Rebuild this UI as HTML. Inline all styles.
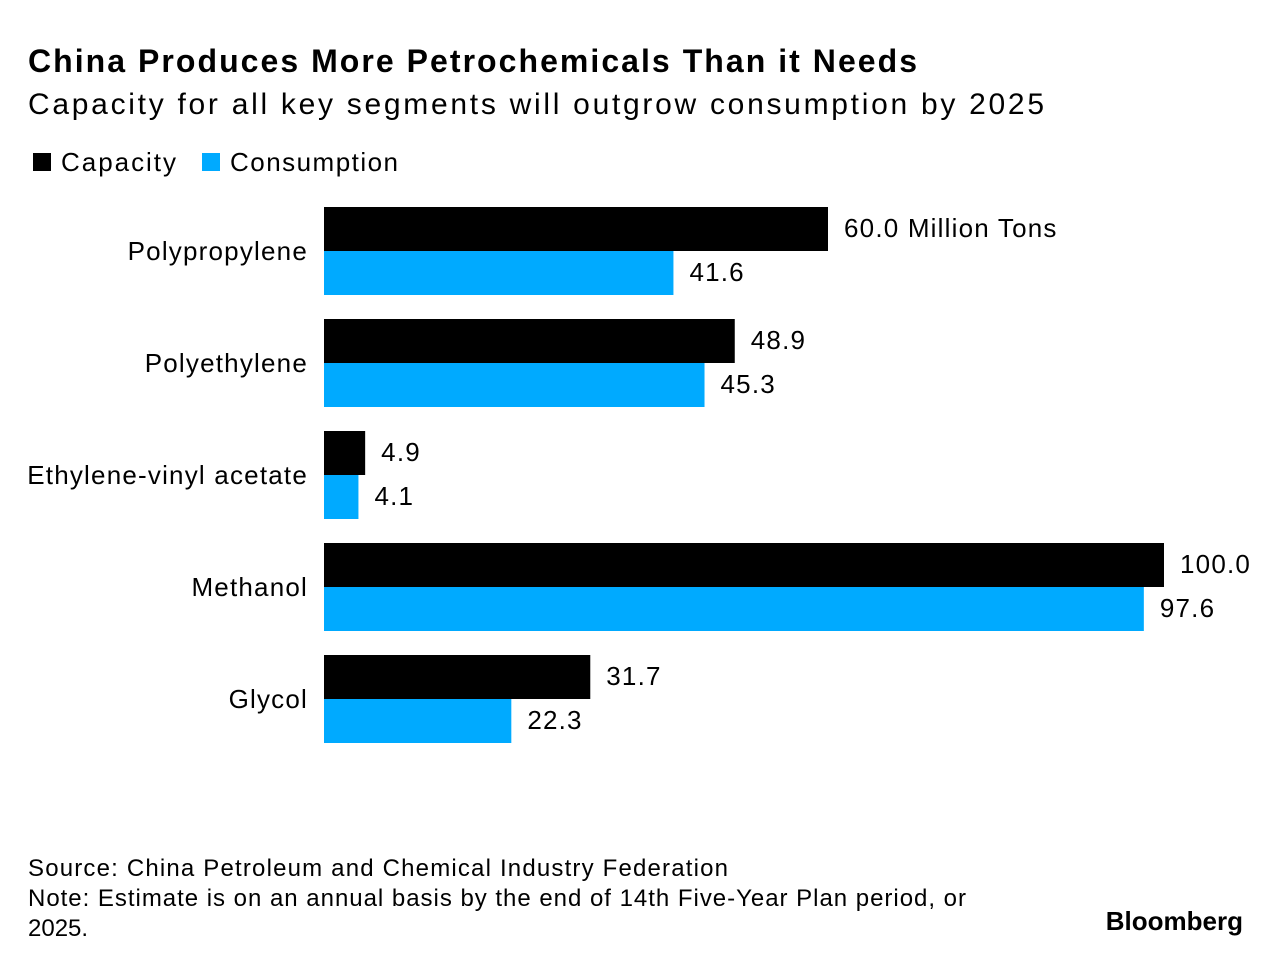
<!DOCTYPE html>
<html><head><meta charset="utf-8"><style>
body{margin:0;background:#fff;width:1282px;height:966px;overflow:hidden;font-family:"Liberation Sans",sans-serif}
svg text{font-family:"Liberation Sans",sans-serif}
</style></head><body>
<svg width="1282" height="966">
<text x="28" y="72" font-size="32" font-weight="bold" fill="#000" textLength="889" lengthAdjust="spacing">China Produces More Petrochemicals Than it Needs</text>
<text x="28" y="114" font-size="30" fill="#000" textLength="1016" lengthAdjust="spacing">Capacity for all key segments will outgrow consumption by 2025</text>
<g>
<rect x="33" y="153" width="18" height="18" fill="#000"/>
<text x="61" y="171" font-size="26" textLength="115" lengthAdjust="spacing">Capacity</text>
<rect x="202" y="153" width="18" height="18" fill="#00aaff"/>
<text x="230" y="171" font-size="26" textLength="168" lengthAdjust="spacing">Consumption</text>
</g>
<g id="bars"></g>
<text x="28" y="876" font-size="24" textLength="700" lengthAdjust="spacing">Source: China Petroleum and Chemical Industry Federation</text>
<text x="28" y="906" font-size="24" textLength="938" lengthAdjust="spacing">Note: Estimate is on an annual basis by the end of 14th Five-Year Plan period, or</text>
<text x="28" y="936" font-size="24">2025.</text>
<text x="1243" y="930" font-size="26" font-weight="bold" text-anchor="end" letter-spacing="0">Bloomberg</text>
</svg>
<script>
const categories=["Polypropylene","Polyethylene","Ethylene-vinyl acetate","Methanol","Glycol"];
const capacity=[60.0,48.9,4.9,100.0,31.7];
const consumption=[41.6,45.3,4.1,97.6,22.3];
const NS="http://www.w3.org/2000/svg";
const g=document.getElementById("bars");
const x0=324,scale=8.4,top0=207,pitch=112,bh=44;
const xs=v=>x0+v*scale;
function mk(tag,attrs){const e=document.createElementNS(NS,tag);for(const k in attrs)e.setAttribute(k,attrs[k]);g.appendChild(e);return e;}
categories.forEach((c,i)=>{
 const y=top0+i*pitch;
 const lab=mk("text",{x:308,y:y+bh+9,"font-size":26,"text-anchor":"end","letter-spacing":1.2});
 lab.textContent=c;
 
 
 [[capacity,"#000",0],[consumption,"#00aaff",1]].forEach(([arr,col,k])=>{
  const v=arr[i];
  const r=mk("rect",{x:x0,y:y+k*bh,width:xs(v)-x0,height:bh,fill:col});
  
  
  const t=mk("text",{x:xs(v)+16,y:y+k*bh+bh/2+8,"font-size":26,"letter-spacing":1.2});
  t.textContent=v.toFixed(1)+(i===0&&k===0?" Million Tons":"");
  
  
 });
});
</script>
</body></html>
